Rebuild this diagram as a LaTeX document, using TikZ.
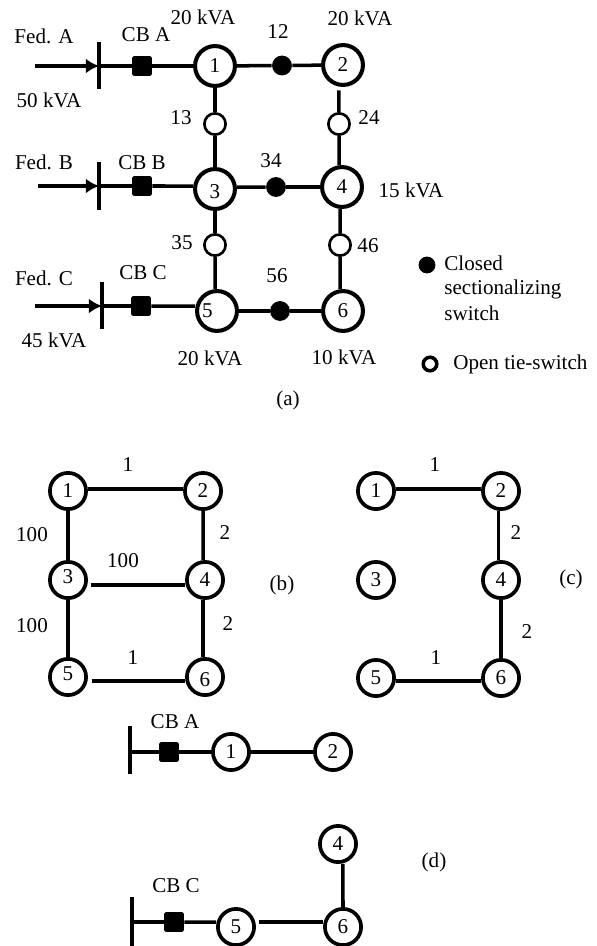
\documentclass[tikz,border=0pt]{standalone}
\usepackage{fontspec}
\setmainfont{Liberation Serif}
\usetikzlibrary{arrows.meta}
\tikzset{
	lbl/.style={inner sep=0pt,font=\fontsize{12}{14}\selectfont},
	busnode/.style={lbl,circle,draw=black,line width=2.3pt,fill=white,minimum size=22.7pt},
	plainnode/.style={lbl,circle,draw=black,line width=2.1pt,fill=white,minimum size=20.6pt},
	closedsw/.style={circle,fill=black,minimum size=11.3pt,inner sep=0pt},
	opensw/.style={circle,fill=white,draw=black,line width=1.5pt,minimum size=12.1pt,inner sep=0pt},
	breaker/.style={rectangle,rounded corners=1pt,fill=black,minimum size=11.3pt,inner sep=0pt},
	wire/.style={draw=black,line width=2pt},
	feed/.style={draw=black,line width=2pt,-{Latex[length=7.5pt,width=8.5pt]}},
}
\begin{document}
\begin{tikzpicture}[x=0.02cm,y=-0.02cm]
	\useasboundingbox (0,0) rectangle (597,946);
	% part (a)
	\node[busnode] (a1) at (215,66) {1};
	\node[busnode] (a2) at (343,65) {2};
	\node[busnode,label={[lbl,yshift=-1.5pt]center:3}] (a3) at (215,189) {};
	\node[busnode] (a4) at (342,187) {4};
	\node[busnode,label={[lbl,xshift=-5.5pt]center:5}] (a5) at (217,311) {};
	\node[busnode] (a6) at (343,311) {6};
	\node[closedsw] (s12) at (282,65.5) {};
	\node[closedsw] (s34) at (276,187) {};
	\node[closedsw] (s56) at (280,311) {};
	\node[opensw] (s13) at (215,124) {};
	\node[opensw] (s24) at (339,124) {};
	\node[opensw] (s35) at (215,245) {};
	\node[opensw] (s46) at (340,245) {};
	\node[breaker] (cba) at (142,66) {};
	\node[breaker] (cbb) at (142,186) {};
	\node[breaker] (cbc) at (141,306) {};
	\coordinate (ba) at (99,66);
	\coordinate (bat) at (99,42);
	\coordinate (bab) at (99,89);
	\coordinate (bb) at (99,186);
	\coordinate (bbt) at (99,162);
	\coordinate (bbb) at (99,210);
	\coordinate (bc) at (102,306);
	\coordinate (bct) at (102,282);
	\coordinate (bcb) at (102,329);
	\coordinate (fa) at (35,66);
	\coordinate (fb) at (38,186);
	\coordinate (fc) at (35,306);
	\draw[wire] (bat)--(bab);
	\draw[wire] (bbt)--(bbb);
	\draw[wire] (bct)--(bcb);
	\draw[feed] (fa)--(ba);
	\draw[feed] (fb)--(bb);
	\draw[feed] (fc)--(bc);
	\draw[wire] (ba)--(cba);
	\draw[wire] (bb)--(cbb);
	\draw[wire] (bc)--(cbc);
	\draw[wire] (cba)--(a1);
	\draw[wire] (cbb)--([yshift=1.7pt]a3.west);
	\draw[wire] (cbc)--([yshift=2.8pt]a5.west);
	\draw[wire] (a1)--(s12);
	\draw[wire] (s12)--(a2);
	\draw[wire] ([yshift=1.1pt]a3.east)--(s34);
	\draw[wire] (s34)--(a4);
	\draw[wire] (a5)--(s56);
	\draw[wire] (s56)--(a6);
	\draw[wire] (a1)--(s13);
	\draw[wire] (s13)--(a3);
	\draw[wire] (a3)--(s35);
	\draw[wire] (s35)--([xshift=-1.1pt]a5.north);
	\draw[wire,shorten <=2pt] ([xshift=-2.3pt]a2.south)--(s24);
	\draw[wire] (s24)--([xshift=-1.7pt]a4.north);
	\draw[wire] ([xshift=-1.1pt]a4.south)--(s46);
	\draw[wire] (s46)--([xshift=-1.7pt]a6.north);
	\node[lbl] (ta1) at (203,17) {20 kVA};
	\node[lbl] (ta2) at (360,18) {20 kVA};
	\node[lbl] (ta4) at (411,190) {15 kVA};
	\node[lbl] (ta5) at (210,358) {20 kVA};
	\node[lbl] (ta6) at (344,357) {10 kVA};
	\node[lbl] (tfa) at (44,36) {Fed. A};
	\node[lbl] (tfb) at (44,162) {Fed. B};
	\node[lbl] (tfc) at (44,278) {Fed. C};
	\node[lbl] (tpa) at (49,100) {50 kVA};
	\node[lbl] (tpc) at (54,340) {45 kVA};
	\node[lbl] (tca) at (146,35) {CB A};
	\node[lbl] (tcb) at (142,163) {CB B};
	\node[lbl] (tcc) at (143,273) {CB C};
	\node[lbl] (t12) at (278,32) {12};
	\node[lbl] (t34) at (271,161) {34};
	\node[lbl] (t56) at (277,276) {56};
	\node[lbl] (t13) at (181,118) {13};
	\node[lbl] (t24) at (369,118) {24};
	\node[lbl] (t35) at (182,243) {35};
	\node[lbl] (t46) at (368,246) {46};
	\node[lbl] (ta) at (288,400) {(a)};
	% legend
	\node[closedsw,minimum size=9.6pt] (lgc) at (427,265) {};
	\node[opensw,line width=2pt,minimum size=7.7pt] (lgo) at (430,364) {};
	\node[lbl,anchor=west] (tlc1) at (444,263) {Closed};
	\node[lbl,anchor=west] (tlc2) at (444,289) {sectionalizing};
	\node[lbl,anchor=west] (tlc3) at (444,313) {switch};
	\node[lbl,anchor=west] (tlo) at (453,364) {Open tie-switch};
	% part (b)
	\node[plainnode] (b1) at (68,491) {1};
	\node[plainnode] (b2) at (203,491) {2};
	\node[plainnode,label={[lbl,yshift=2pt]center:3}] (b3) at (68,580) {};
	\node[plainnode] (b4) at (205,580) {4};
	\node[plainnode,label={[lbl,yshift=2pt]center:5}] (b5) at (68,677) {};
	\node[plainnode,label={[lbl,yshift=-1.5pt]center:6}] (b6) at (205,677) {};
	\draw[wire] ([yshift=1pt]b1.east)--([yshift=1pt]b2.west);
	\draw[wire] (b1)--(b3);
	\draw[wire] (b3)--(b5);
	\draw[wire] (b2)--([xshift=-1.1pt]b4.north);
	\draw[wire] ([xshift=-1.1pt]b4.south)--([xshift=-1.1pt]b6.north);
	\draw[wire,line width=2.4pt,shorten <=1.5pt] ([yshift=-2.8pt]b3.east)--([yshift=-2.8pt]b4.west);
	\draw[wire,shorten <=2.5pt] ([yshift=-2.3pt]b5.east)--([yshift=-2.3pt]b6.west);
	\node[lbl] (tb12) at (128,465) {1};
	\node[lbl] (tb13) at (32,535) {100};
	\node[lbl] (tb24) at (225,533) {2};
	\node[lbl] (tb34) at (123,561) {100};
	\node[lbl] (tb35) at (32,626) {100};
	\node[lbl] (tb46) at (228,624) {2};
	\node[lbl] (tb56) at (133,658) {1};
	\node[lbl] (tb) at (282,585) {(b)};
	% part (c)
	\node[plainnode] (c1) at (376,491) {1};
	\node[plainnode] (c2) at (501,491) {2};
	\node[plainnode] (c3) at (376,580) {3};
	\node[plainnode] (c4) at (501,580) {4};
	\node[plainnode] (c5) at (376,678) {5};
	\node[plainnode] (c6) at (501,678) {6};
	\draw[wire] ([yshift=1.2pt]c1.east)--([yshift=1.2pt]c2.west);
	\draw[wire] ([xshift=-1.5pt]c2.south)--([xshift=-1.5pt]c4.north);
	\draw[wire] (c4)--(c6);
	\draw[wire] ([yshift=-1.7pt]c5.east)--([yshift=-1.7pt]c6.west);
	\node[lbl] (tc12) at (435,465) {1};
	\node[lbl] (tc24) at (516,533) {2};
	\node[lbl] (tc46) at (527,632) {2};
	\node[lbl] (tc56) at (436,658) {1};
	\node[lbl] (tc) at (571,579) {(c)};
	% part (d)
	\node[plainnode] (d1) at (231,752) {1};
	\node[plainnode] (d2) at (333,752) {2};
	\node[plainnode] (d4) at (338,844) {4};
	\node[plainnode] (d5) at (236,927) {5};
	\node[plainnode] (d6) at (343,927) {6};
	\node[breaker] (dcba) at (169,752) {};
	\node[breaker] (dcbc) at (174,922) {};
	\coordinate (dba) at (130,752);
	\coordinate (dbat) at (130,726);
	\coordinate (dbab) at (130,774);
	\coordinate (dbc) at (132,922);
	\coordinate (dbct) at (132,897);
	\coordinate (dbcb) at (132,946);
	\draw[wire] (dbat)--(dbab);
	\draw[wire] (dbct)--(dbcb);
	\draw[wire] (dba)--(dcba);
	\draw[wire] (dcba)--(d1);
	\draw[wire] (d1)--(d2);
	\draw[wire] (dbc)--(dcbc);
	\draw[wire] (dcbc)--([yshift=2.8pt]d5.west);
	\draw[wire,shorten <=1.5pt] ([yshift=2.8pt]d5.east)--([yshift=2.8pt]d6.west);
	\draw[wire] ([xshift=2.8pt]d4.south)--([xshift=0pt]d6.north);
	\node[lbl] (tda) at (175,722) {CB A};
	\node[lbl] (tdc) at (176,886) {CB C};
	\node[lbl] (td) at (434,862) {(d)};
	\end{tikzpicture}
\end{document}
